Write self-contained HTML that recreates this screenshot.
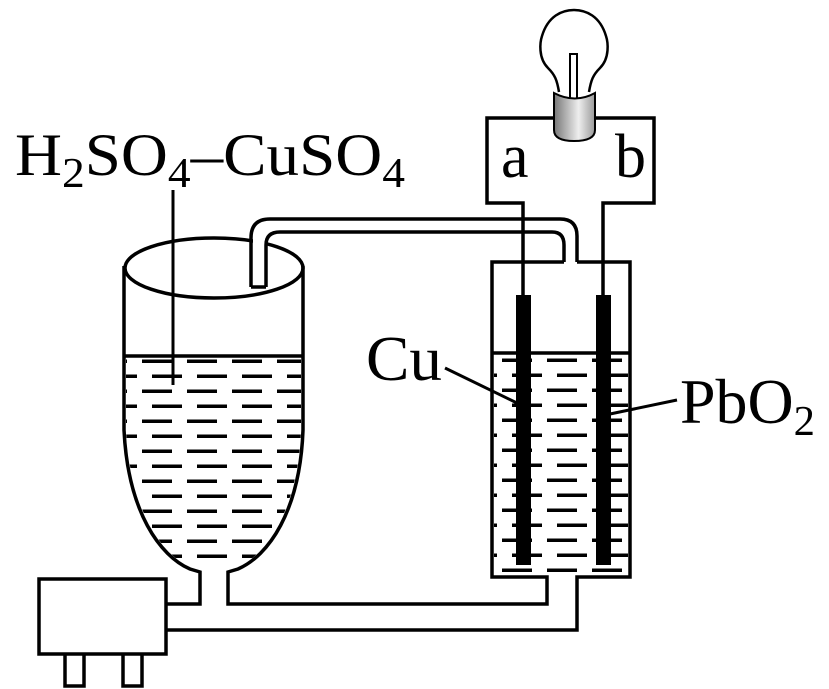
<!DOCTYPE html>
<html><head><meta charset="utf-8"><style>html,body{margin:0;padding:0;background:#fff}svg{display:block}</style></head>
<body>
<svg width="829" height="689" viewBox="0 0 829 689" xmlns="http://www.w3.org/2000/svg" font-family="Liberation Serif, serif">
<defs>
<linearGradient id="g" x1="0" x2="1" y1="0" y2="0"><stop offset="0" stop-color="#777"/><stop offset="0.6" stop-color="#eee"/><stop offset="1" stop-color="#999"/></linearGradient>
<clipPath id="fc"><path d="M126,358 L126,430 C130,510 162,555 190,567 L238,567 C266,555 298,510 301,430 L301,358 Z"/></clipPath>
<clipPath id="bc"><rect x="494" y="355" width="134" height="220"/></clipPath>
<pattern id="dp" x="142" y="359.5" width="45" height="30" patternUnits="userSpaceOnUse"><rect x="0" y="0" width="30" height="3.5" fill="#000"/><rect x="10" y="15" width="30" height="3.5" fill="#000"/><rect x="-35" y="15" width="30" height="3.5" fill="#000"/></pattern>
<pattern id="dp2" x="502" y="358.5" width="45" height="30" patternUnits="userSpaceOnUse"><rect x="0" y="0" width="30" height="3.5" fill="#000"/><rect x="10" y="15" width="30" height="3.5" fill="#000"/><rect x="-35" y="15" width="30" height="3.5" fill="#000"/></pattern>
</defs>
<g fill="none" stroke="#000" stroke-width="3.5">
<rect x="120" y="356" width="190" height="220" fill="url(#dp)" stroke="none" clip-path="url(#fc)"/>
<rect x="490" y="353" width="142" height="224" fill="url(#dp2)" stroke="none" clip-path="url(#bc)"/>
<ellipse cx="214" cy="268" rx="89" ry="30"/>
<path d="M124,266 L124,430 C128,512 160,556 190,569 L200,572 L200,604 L166,604"/>
<path d="M303,266 L303,430 C300,512 268,556 238,569 L228,572 L228,604 L547,604 L547,577 L492,577 L492,262 L564,262"/>
<line x1="124" y1="356" x2="303" y2="356"/>
<line x1="492" y1="353" x2="630" y2="353"/>
<path d="M577,262 L630,262 L630,577 L577,577 L577,630 L166,630"/>
<rect x="253" y="225" width="11.5" height="61" fill="#fff" stroke="none"/>
<path d="M251,287 L251,238 Q251,219 270,219 L560,219 Q577,219 577,236 L577,262"/>
<path d="M266,287 L266,245 Q266,232 280,232 L552,232 Q564,232 564,245 L564,262"/>
<line x1="251" y1="287" x2="266" y2="287"/>
<rect x="39" y="579" width="127" height="75"/>
<path d="M65,654 L65,686 L84,686 L84,654 M123,654 L123,686 L142,686 L142,654"/>
<line x1="173" y1="190" x2="173" y2="385" stroke-width="3"/>
<line x1="445" y1="368" x2="517" y2="403" stroke-width="3"/>
<line x1="610" y1="414" x2="677" y2="400" stroke-width="3"/>
<path d="M523,297 L523,203 L487,203 L487,118 L654,118 L654,203 L603,203 L603,297"/>
</g>
<rect x="516" y="295" width="15" height="270" fill="#000"/>
<rect x="596" y="295" width="15" height="270" fill="#000"/>
<path d="M559,92 C557,80 555,75 548,68 C538,58 540,42 542,36 C548,16 562,10 574,10 C586,10 600,16 606,36 C608,42 610,58 600,68 C593,75 591,80 589,92" fill="#fff" stroke="#000" stroke-width="2.5"/>
<path d="M570,100 L570,54 L577,54 L577,100" fill="none" stroke="#000" stroke-width="2"/>
<path d="M554,93 L554,130 Q554,141 574,141 Q595,141 595,130 L595,93 Q575,104 554,93 Z" fill="url(#g)" stroke="#000" stroke-width="2"/>
<text x="15" y="175" font-size="60" textLength="390" lengthAdjust="spacingAndGlyphs">H<tspan font-size="42" dy="12">2</tspan><tspan dy="-12">SO</tspan><tspan font-size="42" dy="12">4</tspan><tspan dy="-12">–CuSO</tspan><tspan font-size="42" dy="12">4</tspan></text>
<text x="366" y="380" font-size="63" textLength="76" lengthAdjust="spacingAndGlyphs">Cu</text>
<text x="680" y="423" font-size="63" textLength="135" lengthAdjust="spacingAndGlyphs">PbO<tspan font-size="42" dy="12">2</tspan></text>
<text x="501" y="177" font-size="62">a</text>
<text x="615" y="177" font-size="62">b</text>
</svg>
</body></html>
